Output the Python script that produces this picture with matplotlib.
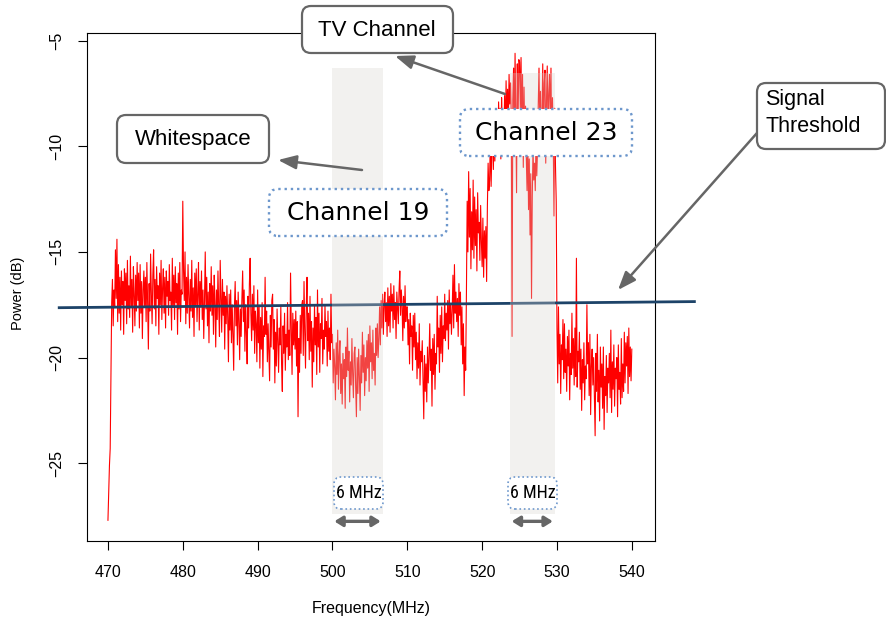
import numpy as np
import matplotlib
matplotlib.use("Agg")
import matplotlib.pyplot as plt
from matplotlib.patches import FancyBboxPatch, FancyArrowPatch, Rectangle
from matplotlib.transforms import IdentityTransform
from matplotlib import font_manager

# ---------------------------------------------------------------- data
start_mhz = 470.0
step_mhz = 0.1
# measured power, ten samples per MHz (470.0 ... 540.0)
power_db = [
    -27.7, -26.4, -25.1, -24.3, -21.0, -17.4, -16.3, -18.5, -16.8, -17.6,   # 470
    -14.9, -17.2, -14.4, -18.3, -15.6, -17.9, -16.2, -18.7, -15.9, -17.5,   # 471
    -16.4, -18.9, -15.8, -17.3, -16.0, -18.4, -15.4, -17.7, -16.6, -18.1,   # 472
    -15.2, -17.6, -16.3, -18.8, -15.7, -17.0, -18.5, -16.1, -17.8, -15.5,   # 473
    -17.3, -16.0, -18.6, -15.6, -17.9, -16.4, -19.1, -16.8, -15.9, -17.6,   # 474
    -16.2, -18.3, -15.5, -17.4, -19.6, -16.5, -17.8, -15.1, -17.0, -18.4,   # 475
    -16.1, -14.9, -17.7, -16.3, -18.5, -15.7, -17.2, -16.6, -18.9, -16.0,   # 476
    -17.5, -15.4, -18.2, -16.7, -15.8, -17.9, -16.2, -18.6, -15.9, -17.1,   # 477
    -16.4, -18.0, -15.6, -17.3, -16.9, -18.7, -15.3, -17.6, -16.1, -18.2,   # 478
    -15.7, -17.4, -16.5, -18.9, -16.0, -17.7, -15.5, -18.3, -16.8, -17.0,   # 479
    -12.6, -15.9, -17.3, -15.0, -18.4, -16.2, -17.9, -15.6, -17.1, -18.6,   # 480
    -16.3, -17.8, -15.4, -18.1, -16.7, -19.0, -16.0, -17.5, -15.8, -18.3,   # 481
    -17.0, -15.5, -18.7, -16.4, -17.6, -15.9, -18.2, -16.8, -19.1, -17.3,   # 482
    -15.0, -17.7, -16.2, -18.5, -16.9, -19.3, -16.5, -17.8, -15.7, -18.0,   # 483
    -16.6, -18.9, -16.1, -17.4, -19.5, -16.8, -18.2, -15.9, -17.6, -19.0,   # 484
    -15.4, -17.2, -18.8, -16.3, -18.0, -16.9, -19.6, -17.1, -18.4, -16.6,   # 485
    -18.1, -20.2, -17.0, -18.7, -16.8, -19.3, -17.5, -18.9, -20.6, -17.6,   # 486
    -16.4, -18.5, -17.3, -19.4, -16.9, -18.2, -20.1, -17.7, -19.0, -17.2,   # 487
    -15.9, -18.3, -16.8, -19.7, -17.5, -18.8, -20.3, -17.1, -18.6, -16.5,   # 488
    -15.3, -17.9, -19.2, -17.0, -18.7, -16.6, -19.8, -17.8, -18.4, -20.2,   # 489
    -16.8, -19.3, -17.6, -20.5, -18.1, -19.6, -17.4, -20.9, -18.5, -19.0,   # 490
    -16.2, -18.9, -17.8, -20.2, -18.4, -19.7, -21.1, -18.0, -19.5, -17.3,   # 491
    -17.0, -19.6, -18.2, -21.2, -18.8, -20.4, -17.7, -19.3, -20.7, -18.6,   # 492
    -19.4, -17.6, -20.3, -21.6, -18.5, -19.8, -17.9, -20.6, -18.9, -19.5,   # 493
    -17.4, -20.1, -18.7, -19.9, -16.0, -18.6, -20.8, -17.9, -19.4, -18.2,   # 494
    -19.6, -17.8, -20.4, -18.3, -22.8, -19.1, -20.7, -18.0, -19.8, -17.5,   # 495
    -17.3, -19.9, -16.4, -18.8, -20.5, -17.6, -16.2, -19.2, -17.9, -20.1,   # 496
    -17.1, -19.7, -18.3, -21.4, -18.6, -20.2, -17.5, -19.4, -18.1, -20.8,   # 497
    -16.8, -19.5, -17.9, -20.7, -18.4, -19.1, -17.2, -20.3, -18.7, -19.6,   # 498
    -17.5, -19.0, -18.3, -20.4, -17.8, -19.7, -18.6, -20.1, -17.0, -19.3,   # 499
    -18.9, -21.2, -19.6, -20.4, -22.0, -19.3, -20.8, -18.7, -21.5, -19.9,   # 500
    -19.2, -21.7, -20.3, -22.2, -19.8, -21.0, -20.1, -22.4, -19.5, -20.9,   # 501
    -18.6, -20.6, -19.7, -22.1, -20.2, -21.3, -19.1, -20.8, -21.9, -19.8,   # 502
    -19.5, -21.4, -22.8, -20.0, -21.7, -19.6, -20.9, -22.5, -19.9, -21.2,   # 503
    -18.8, -20.7, -19.4, -21.8, -20.0, -21.1, -19.2, -20.5, -18.9, -21.6,   # 504
    -18.5, -20.2, -19.3, -21.0, -18.7, -20.6, -19.8, -21.3, -18.6, -19.9,   # 505
    -18.4, -20.0, -19.1, -17.6, -19.4, -17.3, -18.6, -17.0, -18.9, -17.5,   # 506
    -16.9, -18.3, -17.4, -19.0, -16.7, -18.5, -17.1, -18.8, -16.5, -17.8,   # 507
    -17.0, -18.6, -16.6, -18.2, -17.4, -19.1, -16.9, -17.7, -18.4, -16.8,   # 508
    -15.9, -18.0, -16.8, -17.5, -19.2, -17.1, -18.6, -16.6, -18.3, -17.6,   # 509
    -17.6, -19.4, -18.2, -20.3, -17.9, -19.0, -18.5, -20.6, -18.0, -19.5,   # 510
    -17.9, -20.1, -18.8, -21.0, -19.3, -20.5, -18.4, -21.3, -19.7, -20.2,   # 511
    -19.2, -21.0, -22.9, -19.9, -21.6, -20.3, -22.1, -19.5, -21.2, -20.0,   # 512
    -18.4, -20.6, -19.6, -22.3, -19.1, -20.8, -18.9, -21.5, -19.8, -20.3,   # 513
    -17.1, -19.5, -18.6, -20.7, -18.0, -19.8, -17.6, -20.2, -18.5, -19.1,   # 514
    -17.0, -19.2, -17.9, -18.7, -17.3, -19.6, -16.8, -18.4, -17.5, -18.9,   # 515
    -17.8, -16.1, -18.6, -15.6, -17.9, -16.9, -18.3, -17.2, -19.0, -16.5,   # 516
    -18.0, -16.9, -19.4, -17.6, -20.3, -18.4, -21.8, -19.5, -20.6, -17.0,   # 517
    -12.6, -15.0, -11.2, -14.3, -12.0, -15.8, -13.1, -14.9, -11.6, -15.3,   # 518
    -12.4, -14.7, -13.0, -15.9, -12.2, -14.1, -13.6, -15.4, -12.8, -14.5,   # 519
    -15.7, -13.4, -16.2, -14.0, -15.3, -13.8, -16.4, -12.9, -10.8, -12.1,   # 520
    -11.6, -9.6, -11.9, -10.2, -8.9, -11.1, -9.3, -10.7, -8.4, -10.0,       # 521
    -8.6, -10.3, -7.9, -9.5, -8.2, -10.6, -7.7, -9.1, -8.5, -9.8,           # 522
    -7.6, -9.4, -6.9, -8.6, -7.3, -8.9, -6.6, -8.0, -7.0, -8.7,             # 523
    -19.0, -7.8, -6.3, -9.7, -5.6, -8.4, -12.2, -6.1, -9.0, -5.9,           # 524
    -6.0, -8.2, -5.8, -9.5, -6.6, -11.0, -7.2, -9.8, -8.1, -10.5,           # 525
    -12.1, -9.4, -13.0, -10.6, -14.2, -11.3, -17.2, -12.4, -10.1, -11.6,    # 526
    -10.8, -12.1, -9.6, -11.4, -10.2, -8.0, -6.3, -9.1, -7.4, -10.2,        # 527
    -8.6, -6.1, -9.4, -7.0, -6.4, -10.8, -7.8, -6.2, -9.3, -7.5,            # 528
    -6.6, -8.9, -6.3, -10.4, -7.7, -9.6, -13.3, -8.2, -10.9, -12.6,         # 529
    -18.6, -21.2, -17.6, -20.3, -18.9, -21.7, -19.4, -20.1, -18.2, -21.0,   # 530
    -18.4, -20.7, -19.6, -21.6, -19.0, -20.4, -18.7, -22.0, -19.8, -20.8,   # 531
    -17.9, -20.5, -19.1, -21.3, -18.6, -20.9, -15.3, -21.4, -19.7, -20.2,   # 532
    -18.8, -21.5, -19.6, -22.5, -20.1, -21.2, -19.3, -22.0, -20.4, -21.0,   # 533
    -17.5, -20.3, -19.3, -21.8, -18.9, -22.7, -20.4, -19.6, -21.3, -20.0,   # 534
    -21.9, -23.7, -19.8, -21.6, -18.9, -22.1, -20.6, -23.0, -19.5, -21.4,   # 535
    -20.3, -22.4, -19.5, -23.4, -20.9, -21.8, -19.9, -22.6, -20.5, -21.2,   # 536
    -19.8, -21.9, -18.7, -22.6, -20.2, -21.5, -19.4, -22.3, -20.5, -21.0,   # 537
    -20.0, -22.8, -19.4, -21.5, -20.7, -22.2, -19.1, -21.9, -20.3, -21.6,   # 538
    -18.8, -21.2, -19.3, -20.4, -19.0, -21.7, -18.6, -20.9, -19.5, -21.1,   # 539
    -19.6,                                                                  # 540
]
freq_mhz = start_mhz + step_mhz * np.arange(len(power_db))

threshold_mhz = [463.3, 548.55]
threshold_db = [-17.64, -17.35]

channel_names = ["Channel 19", "Channel 23"]
channel_lo_mhz = [500.0, 523.7]
channel_hi_mhz = [506.7, 529.7]
channel_top_db = [-6.28, -6.52]
band_floor_db = -27.4
channel_width_label = "6 MHz"

x_ticks = [470, 480, 490, 500, 510, 520, 530, 540]
y_ticks = [-25, -20, -15, -10, -5]

# ---------------------------------------------------------------- fonts
SANS = ["Liberation Sans", "DejaVu Sans"]


def narrow_font(size):
    """Pick an installed condensed sans face for the small bandwidth tags."""
    wanted = ("narrow", "condensed", "semicondensed", "compressed")
    best = None
    for f in font_manager.fontManager.ttflist:
        name = f.name.lower()
        stretch = str(f.stretch).lower()
        is_narrow = any(w in name for w in wanted) or stretch in (
            "condensed", "semi-condensed", "extra-condensed", "ultra-condensed")
        if not is_narrow or "mono" in name or "serif" in name:
            continue
        if f.style != "normal" or f.weight not in (400, "normal", "regular"):
            continue
        best = f
        if "liberation" in name or "roboto" in name:
            break
    if best is None:
        return font_manager.FontProperties(family="DejaVu Sans", size=size - 1.5)
    return font_manager.FontProperties(fname=best.fname, size=size)


# ---------------------------------------------------------------- figure
W, H = 886, 623
fig = plt.figure(figsize=(W / 100, H / 100), dpi=100)
fig.patch.set_facecolor("white")

ax = fig.add_axes([87 / W, 1 - 541 / H, (655 - 87) / W, (541 - 33) / H])
ax.set_xlim(467.2, 543.1)
ax.set_ylim(-28.68, -4.64)

# spectrum trace
ax.plot(freq_mhz, power_db, color="#ff0000", lw=0.8, zorder=2)

# detection threshold, running past the plot frame
ax.plot(threshold_mhz, threshold_db, color="#1d4368", lw=2.0,
        clip_on=False, zorder=3, solid_capstyle="butt")

# translucent channel bands laid over the trace
for lo, hi, top in zip(channel_lo_mhz, channel_hi_mhz, channel_top_db):
    ax.add_patch(Rectangle((lo, band_floor_db), hi - lo, top - band_floor_db,
                           facecolor="#d9d4cf", edgecolor="none",
                           alpha=0.32, zorder=4))

# 6 MHz span arrows under each band
for lo, hi in zip(channel_lo_mhz, channel_hi_mhz):
    ax.add_patch(FancyArrowPatch((lo + 0.25, -27.75), (hi - 0.25, -27.75),
                                 arrowstyle="<|-|>,head_length=0.8,head_width=0.5",
                                 mutation_scale=6, lw=2.4, color="#666666",
                                 shrinkA=0, shrinkB=0, zorder=5, clip_on=False))

for sp in ax.spines.values():
    sp.set_linewidth(0.8)
    sp.set_color("black")

ax.set_xticks(x_ticks)
ax.set_yticks(y_ticks)
ax.set_xticklabels([str(v) for v in x_ticks])
ax.set_yticklabels(["\u2212" + str(abs(v)) for v in y_ticks])
ax.tick_params(axis="x", direction="out", length=6.5, width=0.8, pad=11,
               labelsize=11.5)
ax.tick_params(axis="y", direction="out", length=6.5, width=0.8, pad=10,
               labelsize=11.5, labelrotation=90)
for lbl in ax.get_xticklabels() + ax.get_yticklabels():
    lbl.set_fontfamily(SANS)
for lbl in ax.get_yticklabels():
    lbl.set_va("center")

ax.set_xlabel("Frequency(MHz)", fontsize=11.5, family=SANS)
ax.set_ylabel("Power (dB)", fontsize=10.5, family=SANS)
ax.xaxis.label.set_va("center")
ax.xaxis.set_label_coords(0.5, -(609 - 541) / 508)
ax.yaxis.label.set_va("center")
ax.yaxis.set_label_coords(-(87 - 18) / 568, (541 - 293) / 508)


# ---------------------------------------------------------------- callouts
def px_box(x0, y0, x1, y1, ec, ls, lw, rounding):
    patch = FancyBboxPatch((x0, H - y1), x1 - x0, y1 - y0,
                           boxstyle=f"round,pad=0,rounding_size={rounding}",
                           facecolor="white", edgecolor=ec, linestyle=ls,
                           linewidth=lw, transform=IdentityTransform(),
                           zorder=10)
    fig.add_artist(patch)


def px_text(x, y, s, ha="center", **kw):
    fig.text(x / W, 1 - y / H, s, ha=ha, va="center", color="black",
             zorder=11, **kw)


def px_arrow(x0, y0, x1, y1):
    arr = FancyArrowPatch((x0, H - y0), (x1, H - y1),
                          arrowstyle="-|>,head_length=1.1,head_width=0.42",
                          mutation_scale=10, lw=1.8, color="#666666",
                          shrinkA=0, shrinkB=0, transform=IdentityTransform(),
                          zorder=9)
    fig.add_artist(arr)


GREY_EDGE = "#666666"
DOT_EDGE = "#6d97cc"

# call-out arrows
px_arrow(505, 94, 395, 56)
px_arrow(362, 170, 278, 160)
px_arrow(757, 133, 618, 290)

# rounded grey call-outs
px_box(302, 6, 453, 53, GREY_EDGE, "-", 1.6, 9)
px_text(377, 30, "TV Channel", fontsize=16, family=SANS)

px_box(117, 115, 269, 163, GREY_EDGE, "-", 1.6, 9)
px_text(193, 140, "Whitespace", fontsize=16, family=SANS)

px_box(757, 83, 885, 149, GREY_EDGE, "-", 1.6, 9)
px_text(765, 100, "Signal", ha="left", fontsize=15.5, family=SANS)
px_text(765, 126, "Threshold", ha="left", fontsize=15.5, family=SANS)

# dotted channel labels
px_box(269, 189, 447, 236, DOT_EDGE, ":", 1.7, 9)
px_text(358, 213, channel_names[0], fontsize=18, family=["DejaVu Sans"])

px_box(460, 109, 632, 156, DOT_EDGE, ":", 1.7, 9)
px_text(546, 133, channel_names[1], fontsize=18, family=["DejaVu Sans"])

# bandwidth tags
tag_font = narrow_font(13)
px_box(334, 477, 383, 509, DOT_EDGE, ":", 1.2, 7)
px_text(358.5, 493, channel_width_label, fontproperties=tag_font)
px_box(508, 477, 557, 509, DOT_EDGE, ":", 1.2, 7)
px_text(532.5, 493, channel_width_label, fontproperties=tag_font)

fig.savefig("out.png", dpi=100, facecolor="white")
